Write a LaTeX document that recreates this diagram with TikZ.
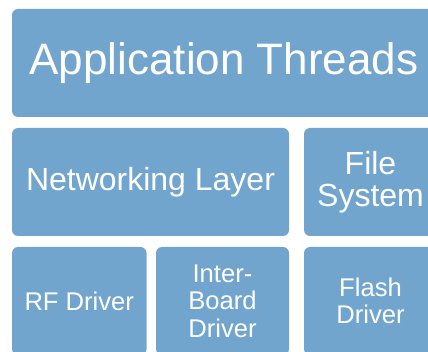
\documentclass[tikz,border=0pt]{standalone}
\usepackage{fontspec}
\setmainfont{Liberation Sans}
\usepackage{tikz}
\usetikzlibrary{positioning}
\definecolor{layerblue}{RGB}{113,165,206}

\begin{document}
\begin{tikzpicture}[
    x=1pt, y=-1pt,
    blk/.style={rectangle, fill=layerblue, rounded corners=6pt, text=white, align=center, inner sep=0pt, outer sep=0pt, minimum height=108pt},
    big/.style={font=\fontsize{44}{48}\selectfont},
    mid/.style={font=\fontsize{32}{31.5}\selectfont},
    small/.style={font=\fontsize{25.6}{27.5}\selectfont}
  ]
    \useasboundingbox[fill=white] (0,0) rectangle (428,352);
    \begin{scope}
    \clip (0,0) rectangle (428,352);
    \node[blk, big, minimum width=424pt] (app) at (224,63) {Application Threads};
    \node[blk, mid, minimum width=277pt, below=11pt of app.south west, anchor=north west] (net) {Networking Layer};
    \node[blk, mid, minimum width=133pt, right=15pt of net] (fs) {File\\System};
    \node[blk, small, minimum width=134.5pt, below=11pt of net.south west, anchor=north west] (rf) {RF Driver};
    \node[blk, small, minimum width=133pt, right=9.5pt of rf] (ib) {Inter-\\Board\\Driver};
    \node[blk, small, minimum width=133pt, below=11pt of fs] (fl) {Flash\\Driver};
    \end{scope}
  \end{tikzpicture}
\end{document}
